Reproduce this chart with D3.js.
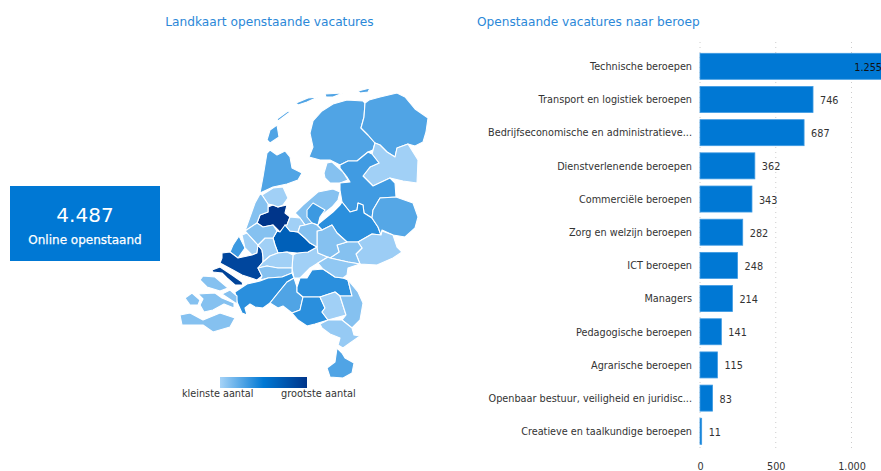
<!DOCTYPE html>
<html><head><meta charset="utf-8">
<script src="https://cdn.jsdelivr.net/npm/d3@7"></script>
<style>html,body{margin:0;padding:0;background:#fff;overflow:hidden}text{font-family:"DejaVu Sans",sans-serif}</style>
</head><body><svg id="c" width="881" height="471"></svg>
<script>
const mapTitle="Landkaart openstaande vacatures";
const barTitle="Openstaande vacatures naar beroep";
const kpiValue="4.487", kpiLabel="Online openstaand";
const legendLow="kleinste aantal", legendHigh="grootste aantal";
const categories=["Technische beroepen","Transport en logistiek beroepen","Bedrijfseconomische en administratieve...","Dienstverlenende beroepen","Commerciële beroepen","Zorg en welzijn beroepen","ICT beroepen","Managers","Pedagogische beroepen","Agrarische beroepen","Openbaar bestuur, veiligheid en juridisc...","Creatieve en taalkundige beroepen"];
const values=[1255,746,687,362,343,282,248,214,141,115,83,11];
const valueLabels=["1.255","746","687","362","343","282","248","214","141","115","83","11"];
const axisTicks=[0,500,1000];
const axisTickLabels=["0","500","1.000"];
const regionValues=[123,123,45,72,138,72,160,118,50,142,72,45,72,420,280,45,72,142,45,365,375,45,45,72,160,123,160,160,45,72,55,60,45,72,72,72,72,72,72,72,123,123,123,123,123,123,123];
const regionShapes=[
/* Fryslân */[[363,101],[347,100],[333,104],[322,111],[313,121],[310,133],[313,147],[309,157],[320,160],[330,160],[340,165],[348,161],[357,161],[368,152],[373,150],[375,143],[368,135],[361,128],[364,117],[365,103]],
/* Groningen */[[365,103],[369,100],[380,97],[397,93],[405,97],[415,109],[428,118],[426,132],[423,142],[415,146],[408,144],[397,148],[395,157],[387,152],[380,145],[375,143],[368,135],[361,128],[364,117]],
/* Drenthe */[[375,143],[380,145],[387,152],[395,157],[397,148],[408,144],[418,160],[417,183],[403,181],[390,178],[373,186],[363,176],[370,167],[379,163],[372,154]],
/* Noordoostpolder */[[324,173],[327,163],[332,162],[343,172],[348,180],[340,183],[330,183],[325,178]],
/* Zwolle */[[340,165],[348,161],[357,161],[368,152],[372,154],[379,163],[370,167],[363,176],[373,186],[390,178],[395,183],[396,197],[380,198],[373,210],[372,218],[364,213],[363,205],[358,203],[357,210],[350,212],[342,202],[340,190],[340,183],[350,182],[347,177],[340,168]],
/* Flevoland */[[295,213],[303,205],[318,192],[333,189],[340,192],[338,200],[332,207],[322,215],[317,225],[312,223],[305,225],[300,218]],
/* Veluwe */[[342,202],[350,212],[357,210],[358,203],[363,205],[364,213],[372,218],[378,227],[381,235],[372,234],[358,242],[347,242],[337,233],[332,225],[322,230],[317,225],[333,212],[340,205]],
/* Twente */[[380,198],[396,197],[413,203],[418,217],[415,228],[405,237],[393,235],[382,230],[381,235],[378,227],[372,218],[373,210]],
/* Achterhoek */[[358,242],[372,234],[381,235],[382,231],[393,235],[397,247],[402,252],[393,258],[377,265],[360,264],[356,254],[362,248]],
/* Amersfoort */[[307,210],[313,203],[325,210],[320,217],[318,225],[312,223],[307,217]],
/* Arnhem */[[337,245],[347,242],[358,242],[362,248],[356,254],[360,264],[348,262],[330,258],[339,252]],
/* Rivierenland */[[293,255],[297,253],[308,252],[317,247],[318,253],[328,257],[318,263],[310,268],[300,278],[294,278],[292,268]],
/* Foodvalley */[[317,231],[322,230],[332,225],[337,233],[347,242],[337,245],[339,252],[330,258],[318,253],[317,247]],
/* Amsterdam */[[268,207],[273,205],[278,207],[287,205],[285,213],[290,217],[287,225],[280,232],[273,225],[263,227],[257,223],[260,215],[268,212]],
/* Utrecht */[[277,231],[280,232],[285,225],[290,231],[298,232],[305,238],[310,243],[317,247],[308,252],[297,253],[287,252],[278,253],[275,245],[273,238]],
/* Gooi */[[290,217],[300,218],[305,225],[300,226],[298,232],[290,231],[285,225],[287,225]],
/* Kromme Rijn */[[298,232],[300,226],[305,225],[312,223],[317,225],[322,230],[317,231],[317,247],[310,243],[305,238]],
/* Den Haag */[[239,236],[245,248],[238,258],[230,252],[233,245]],
/* Zoetermeer */[[242,235],[247,233],[258,245],[257,253],[252,255],[245,248]],
/* Rotterdam */[[222,253],[230,252],[238,258],[252,255],[257,253],[258,245],[262,250],[263,257],[263,262],[258,268],[262,276],[257,280],[242,275],[233,270],[220,263],[222,258]],
/* Voorne */[[212,270],[220,267],[232,275],[242,282],[243,285],[235,285],[227,278],[222,273],[213,272]],
/* Midden-Holland */[[265,238],[273,238],[275,245],[278,253],[270,256],[263,262],[263,257],[262,250],[258,245]],
/* Lek */[[263,262],[270,256],[278,253],[287,252],[293,255],[292,268],[278,268],[267,266],[258,268]],
/* Gorinchem */[[258,268],[267,266],[278,268],[292,268],[292,273],[282,277],[268,278],[260,280],[262,276]],
/* West-Brabant */[[235,292],[247,284],[260,281],[268,278],[282,277],[292,273],[294,278],[287,282],[278,293],[270,303],[263,308],[255,307],[250,304],[245,308],[247,315],[242,313],[237,302]],
/* Midden-Brabant */[[278,293],[287,282],[294,278],[297,287],[297,292],[303,297],[300,310],[292,313],[283,306],[278,308],[270,303]],
/* Noordoost-Brabant */[[297,287],[300,278],[307,278],[312,270],[323,269],[335,277],[343,278],[348,280],[352,296],[340,296],[335,292],[320,297],[303,297],[297,292]],
/* Helmond */[[303,297],[320,297],[325,308],[322,312],[328,320],[315,324],[307,326],[298,320],[292,313],[300,310]],
/* Oost-Brabant */[[320,297],[335,292],[340,296],[346,315],[328,320],[322,312],[325,308]],
/* Noord-Limburg */[[340,296],[352,296],[348,280],[358,292],[363,303],[360,320],[352,328],[342,320],[346,315]],
/* Midden-Limburg */[[320,324],[328,320],[342,320],[352,328],[354,335],[360,336],[350,343],[343,348],[338,345],[340,338],[330,334],[322,328]],
/* Oost-Rivier */[[318,263],[328,257],[330,258],[348,262],[360,264],[348,268],[347,275],[343,278],[335,277],[323,269]],
/* Zaanstreek */[[262,195],[273,188],[283,187],[288,198],[283,205],[278,207],[273,205],[268,204]],
/* Kennemerland */[[255,203],[260,194],[262,195],[268,204],[268,212],[260,215],[257,223],[245,231],[250,217]],
/* Leiden */[[245,231],[257,223],[263,227],[273,225],[277,231],[273,238],[265,238],[258,245],[247,233]],
/* Schouwen */[[200,280],[203,276],[215,277],[228,288],[220,291],[207,287]],
/* Walcheren */[[185,298],[192,293],[200,300],[198,305],[190,305]],
/* Beveland */[[198,294],[215,293],[222,298],[234,303],[234,308],[224,304],[213,310],[204,312],[200,305],[203,299]],
/* Tholen */[[222,294],[230,290],[237,296],[237,304],[228,298]],
/* Zeeuws-Vlaanderen */[[180,315],[190,313],[203,320],[220,313],[235,318],[230,327],[213,332],[203,325],[182,325]],
/* Zuid-Limburg */[[337,348],[342,353],[345,358],[354,363],[352,373],[343,378],[330,377],[327,368],[335,362]],
/* Noord-Holland */[[267,153],[270,150],[277,155],[285,151],[290,157],[292,168],[302,173],[298,180],[287,184],[273,187],[260,193],[263,177]],
/* Texel */[[277,125],[279,137],[270,143],[267,140],[270,130]],
/* Vlieland */[[277,119],[288,111],[290,112],[278,121]],
/* Terschelling */[[296,103],[308,98],[318,97],[307,102],[298,105]],
/* Ameland */[[325,94],[343,93],[333,97],[326,97]],
/* Schiermonnikoog */[[358,91],[370,88],[368,92],[360,93]],
];
const colorStops=["#A6D3F7","#0078D4","#00358A"];
const barColor="#0078D4", titleColor="#2B88D8", textColor="#333";

const svg=d3.select("#c");
const mx=d3.scaleLinear().domain([180,430]).range([180,430]);
const my=d3.scaleLinear().domain([85,380]).range([85,380]);
const color=d3.scaleLinear().domain([40,200,420]).range(colorStops);
const line=d3.line().x(d=>mx(d[0])).y(d=>my(d[1])).curve(d3.curveLinearClosed);
const defs=svg.append("defs");
const grad=defs.append("linearGradient").attr("id","lg");
colorStops.forEach((c,i)=>grad.append("stop").attr("offset",(i/2*100)+"%").attr("stop-color",c));

svg.append("text").attr("x",269.5).attr("y",26).attr("text-anchor","middle").attr("font-size",12.2).attr("fill",titleColor).text(mapTitle);
svg.append("text").attr("x",477).attr("y",26).attr("font-size",12.15).attr("fill",titleColor).text(barTitle);

svg.append("rect").attr("x",10).attr("y",186).attr("width",150).attr("height",75).attr("fill",barColor);
svg.append("text").attr("x",85).attr("y",222).attr("text-anchor","middle").attr("font-size",20).attr("fill","#fff").text(kpiValue);
svg.append("text").attr("x",85).attr("y",244).attr("text-anchor","middle").attr("font-size",12).attr("fill","#fff").style("stroke","#fff").style("stroke-width",.25).text(kpiLabel);

const map=svg.append("g");
map.selectAll("path").data(regionShapes).join("path").attr("d",line)
  .attr("fill",(d,i)=>color(regionValues[i])).attr("stroke","#fff").attr("stroke-width",1.1).attr("stroke-linejoin","round");

svg.append("rect").attr("x",220).attr("y",377).attr("width",87).attr("height",11).attr("fill","url(#lg)");
svg.append("text").attr("x",182).attr("y",397).attr("font-size",9.7).attr("fill",textColor).text(legendLow);
svg.append("text").attr("x",281).attr("y",397).attr("font-size",9.8).attr("fill",textColor).text(legendHigh);

const x=d3.scaleLinear().domain([0,1000]).range([700,851.5]);
const y=d3.scaleBand().domain(categories).range([53.3,444.3]).paddingInner(.2157).paddingOuter(0);
const gridG=svg.append("g");
gridG.selectAll("line").data(axisTicks).join("line").attr("x1",d=>x(d)).attr("x2",d=>x(d)).attr("y1",42).attr("y2",450)
  .attr("stroke","#ccc").attr("stroke-width",1).attr("stroke-dasharray","1 4");
const bars=svg.append("g");
bars.selectAll("rect").data(values).join("rect").attr("x",x(0)).attr("y",(d,i)=>y(categories[i])).attr("width",d=>x(d)-x(0)).attr("height",y.bandwidth())
  .attr("fill",barColor).attr("stroke","#3F9BE3").attr("stroke-width",.8);
svg.append("g").selectAll("text").data(categories).join("text").attr("x",692).attr("y",d=>y(d)+y.bandwidth()/2+3.8)
  .attr("text-anchor","end").attr("font-size",9.7).attr("fill",textColor).text(d=>d);
svg.append("g").selectAll("text").data(values).join("text")
  .attr("x",d=>d>1100?882:x(d)+7).attr("text-anchor",d=>d>1100?"end":"start").attr("y",(d,i)=>y(categories[i])+y.bandwidth()/2+4.5)
  .attr("font-size",9.7).attr("fill",d=>d>1100?"#111":textColor).text((d,i)=>valueLabels[i]);
const axis=d3.axisBottom(x).tickValues(axisTicks).tickFormat((d,i)=>axisTickLabels[i]).tickSize(0);
const ag=svg.append("g").attr("transform","translate(0,460)").call(axis);
ag.select(".domain").remove();
ag.selectAll("text").attr("font-size",9.7).attr("fill",textColor).style("font-family",'"DejaVu Sans"');
</script></body></html>
